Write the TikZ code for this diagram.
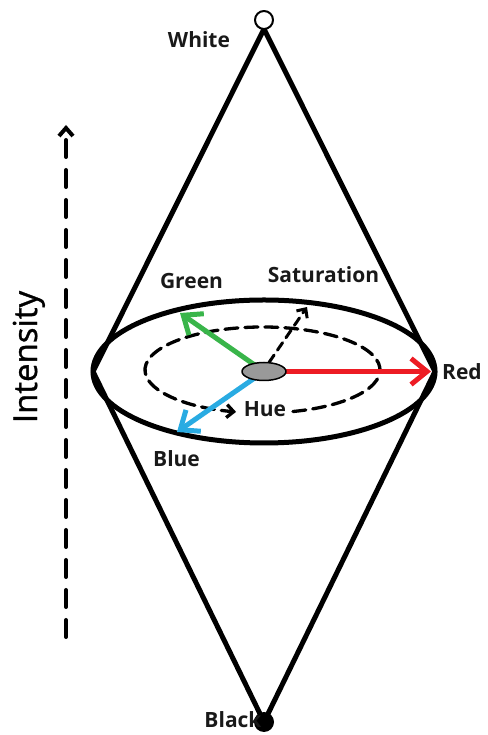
\documentclass[tikz,border=0pt]{standalone}
\usepackage{fontspec}
\setmainfont{Open Sans}
\usetikzlibrary{arrows.meta,calc,positioning}
\definecolor{rojo}{HTML}{ED1C24}
\definecolor{verde}{HTML}{39B54A}
\definecolor{azul}{HTML}{29ABE2}
\definecolor{gris}{HTML}{999999}
\tikzset{
  lbl/.style={font=\fontsize{21}{24}\selectfont\bfseries,text=black!90,inner sep=0pt,anchor=base},
  rim/.style={line width=5pt},
  huebarb/.style={-{Straight Barb[length=16pt,width=26pt]}}
}

\begin{document}
\begin{tikzpicture}[x=1pt,y=1pt,line cap=round,line join=round]
        \useasboundingbox (0,0) rectangle (487,735);
        \coordinate (W) at (264,715);
        \coordinate (K) at (264,13);
        \coordinate (C) at (264,363.5);
        \coordinate (Ci) at (262.5,365);
        \coordinate (L) at (93,363.5);
        \coordinate (R) at (435,363.5);
        \coordinate (redtip) at (431,363.5);
        \coordinate (greentip) at (180,422);
        \coordinate (bluetip) at (177,303);
        \coordinate (sattip) at (307,428);
        \coordinate (int0) at (66,98);
        \coordinate (int1) at (66,610);
        % double cone
        \draw[rim] (L) -- ($(W)+(0,-9)$) -- (R) -- (K) -- cycle;
        \draw[rim] (C) ellipse [x radius=171, y radius=71.5];
        \draw[line width=2pt,fill=white] (W) circle[radius=9];
        \fill (K) circle[radius=10];
        % hue circle
        \draw[line width=3.3pt,dash pattern=on 13pt off 7pt,-{Straight Barb[length=7pt,width=13pt]}]
          (Ci) ++(-75:117.5 and 43) arc[start angle=-75,end angle=257,x radius=117.5,y radius=43];
        \draw[line width=3pt,dash pattern=on 9pt off 6pt,-{Straight Barb[length=7pt,width=13pt]}]
          ($(C)+(5,9)$) -- (sattip);
        % colour axes
        \draw[rojo,line width=5pt,huebarb] (C) -- (redtip);
        \draw[verde,line width=5pt,huebarb] (C) -- (greentip);
        \draw[azul,line width=5pt,huebarb] (C) -- (bluetip);
        \draw[line width=1.5pt,fill=gris] (C) ellipse [x radius=22, y radius=9];
        % intensity
        \draw[line width=4pt,dash pattern=on 17pt off 13pt,-{Straight Barb[length=8pt,width=14pt]}]
          (int0) -- (int1);
        \node[font=\fontsize{33}{36}\selectfont\addfontfeatures{FakeBold=1},rotate=90,anchor=base,inner sep=0pt] (intensity) at (37,378) {Intensity};
        \node[lbl] (white) at (199,687) {White};
        \node[lbl] (black) at (233,7) {Black};
        \node[lbl] (green) at (191.5,446) {Green};
        \node[lbl] (sat) at (323.5,452) {Saturation};
        \node[lbl] (red) at (462,355) {Red};
        \node[lbl] (hue) at (265,318) {Hue};
        \node[lbl] (blue) at (176.5,268) {Blue};
\end{tikzpicture}
\end{document}
